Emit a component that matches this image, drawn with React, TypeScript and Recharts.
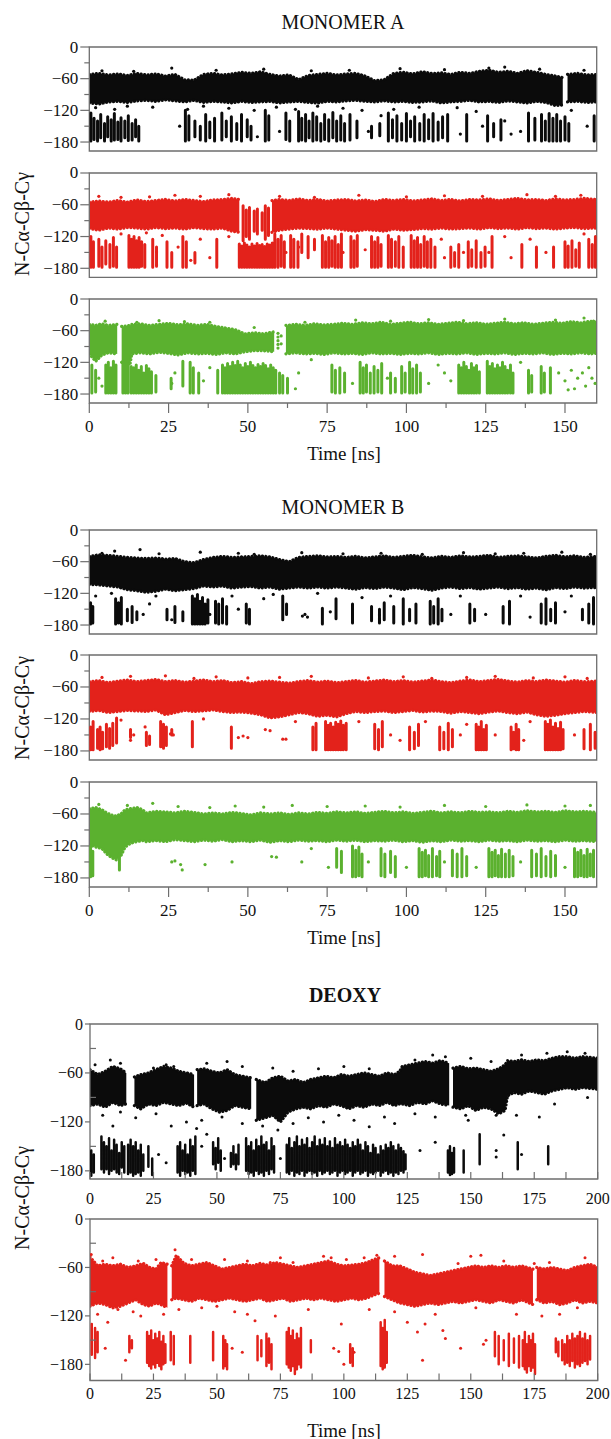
import React from "react";
import { ComposedChart, Area, Line, Scatter, XAxis, YAxis, ReferenceArea } from "recharts";

type Row = [number, number, number];
type Pt = [number, number];

const INK = "#111";
const FRAME = "#6e6e6e";
const SERIF = '"Liberation Serif", "Times New Roman", Times, "DejaVu Serif", serif';
const BLACK = "#0b0b0b";
const RED = "#e3221b";
const GREEN = "#5bb12f";

// tick labels
const angleTicks = [0, -30, -60, -90, -120, -150, -180];
const monoTimeTicks = [0, 12.5, 25, 37.5, 50, 62.5, 75, 87.5, 100, 112.5, 125, 137.5, 150];
const deoxyTimeTicks = [0, 12.5, 25, 37.5, 50, 62.5, 75, 87.5, 100, 112.5, 125, 137.5, 150, 162.5, 175, 187.5, 200];

// ---------- MONOMER A, black ----------  band rows: [t, upper, lower]
const aBlackBand: Row[][] = [
  [[0,-52,-106],[3,-50,-108],[6,-53,-104],[9,-51,-103],[12,-54,-105],[15,-50,-102],[18,-53,-101],[21,-51,-103],[24,-55,-100],[27,-52,-102],[30,-62,-104],[33,-63,-101],[36,-52,-105],[39,-50,-103],[42,-53,-104],[45,-51,-106],[48,-48,-103],[51,-50,-105],[54,-47,-104],[57,-52,-103],[60,-55,-106],[63,-53,-104],[66,-62,-103],[69,-54,-105],[72,-52,-106],[75,-50,-103],[78,-53,-104],[81,-51,-102],[84,-50,-101],[87,-55,-103],[90,-64,-104],[93,-62,-102],[96,-50,-104],[99,-48,-103],[102,-51,-105],[105,-47,-104],[108,-50,-102],[111,-49,-106],[114,-52,-104],[117,-48,-103],[120,-50,-101],[123,-46,-104],[126,-44,-103],[129,-48,-105],[132,-46,-102],[135,-50,-104],[138,-45,-106],[141,-48,-103],[144,-52,-105],[147,-55,-111],[149.3,-58,-110]],
  [[150.8,-52,-104],[154,-50,-103],[157,-53,-105],[160,-52,-104]],
];
const aBlackStripes: Row[] = [
  [0.5,-125,-178],[1.5,-135,-175],[2.6,-140,-178],[3.6,-128,-172],[4.8,-145,-178],[5.8,-132,-170],[6.9,-138,-178],[7.9,-126,-176],[9,-142,-175],[10,-134,-178],[11.2,-140,-172],[12.3,-130,-177],[13.5,-145,-176],[14.6,-138,-170],[15.6,-150,-178],
  [30.3,-120,-178],[31.4,-130,-176],[33.3,-140,-170],[35,-150,-176],[36.7,-128,-178],[38,-142,-172],[39.5,-135,-178],[41.8,-125,-176],[43.2,-140,-170],[44.8,-132,-178],[46.5,-145,-175],[48,-128,-178],[49.8,-138,-170],[51,-150,-176],
  [55.5,-120,-178],[56.6,-130,-176],[62,-125,-175],[63.2,-140,-178],
  [66,-122,-178],[67,-135,-176],[68.2,-128,-178],[69.3,-140,-172],[70.5,-125,-178],[71.7,-132,-176],[73,-145,-178],[74.2,-128,-175],[75.5,-138,-178],[76.8,-124,-172],[78,-140,-178],[79.3,-130,-176],[80.5,-145,-178],
  [82.2,-128,-176],[84.4,-140,-172],[89,-150,-172],[91.6,-145,-168],
  [94.3,-125,-178],[95.6,-138,-172],[97,-130,-178],[98.5,-145,-176],[100,-126,-178],[101.3,-140,-170],[102.6,-132,-178],[104.2,-145,-176],[105.6,-128,-178],[107,-138,-174],[108.4,-126,-178],[110,-142,-176],[111.4,-132,-172],[113,-128,-178],
  [119,-128,-178],[125.6,-130,-178],[127.5,-145,-170],[129.8,-138,-176],[138.5,-125,-178],[140.5,-135,-176],
  [142.6,-128,-178],[143.8,-140,-176],[145,-126,-178],[146.2,-135,-178],[147.4,-128,-178],[148.6,-140,-178],[150,-132,-176],[151.2,-145,-178],[159.2,-130,-178],
];
const aBlackDots: Pt[] = [
  [4,-45],[14,-46],[26,-40],[40,-44],[55,-42],[70,-45],[82,-44],[98,-41],[112,-43],[126,-40],[131,-38],[142,-42],[156,-44],
  [2,-115],[8,-118],[12,-112],[20,-114],[28.5,-150],[31,-118],[36,-112],[44,-116],[52,-120],[53,-170],[59,-114],[60,-160],[65,-118],[72,-112],[80,-116],[86,-120],[88,-160],[92,-130],[96,-118],[104,-114],[116,-115],[117,-165],[122,-122],[124,-150],[131,-140],[133,-165],[136,-160],[152,-120],[157,-150],
];

// ---------- MONOMER A, red ----------
const aRedBand: Row[][] = [
  [[0,-55,-105],[3,-53,-108],[6,-55,-104],[9,-52,-106],[12,-55,-103],[15,-51,-104],[18,-54,-106],[21,-52,-103],[24,-50,-105],[27,-53,-104],[30,-50,-106],[33,-52,-103],[36,-54,-105],[39,-51,-106],[42,-50,-104],[45,-48,-110],[47.3,-50,-112]],
  [[57.6,-52,-112],[60,-50,-108],[63,-52,-106],[66,-49,-104],[69,-52,-105],[72,-50,-106],[75,-53,-104],[78,-51,-106],[81,-50,-108],[84,-53,-110],[87,-51,-107],[90,-54,-108],[93,-50,-110],[96,-52,-106],[99,-50,-108],[102,-53,-107],[105,-51,-105],[108,-49,-106],[111,-52,-104],[114,-50,-106],[117,-53,-105],[120,-50,-104],[123,-51,-106],[126,-49,-103],[129,-52,-105],[132,-50,-104],[135,-48,-106],[138,-51,-103],[141,-50,-105],[144,-52,-104],[147,-49,-106],[150,-51,-104],[153,-50,-103],[156,-48,-105],[160,-50,-104]],
];
const aRedStripes: Row[] = [
  [48.5,-62,-128],[49.5,-70,-120],[50.5,-65,-125],[52,-72,-110],[53,-68,-115],[54.5,-75,-108],[55.5,-62,-125],[56.5,-66,-118],
  [47.3,-134,-178],[48.1,-138,-178],[48.9,-132,-178],[49.7,-136,-178],[50.5,-140,-178],[51.3,-134,-178],[52.1,-138,-178],[52.9,-133,-178],[53.7,-137,-178],[54.5,-135,-178],[55.3,-139,-178],[56.1,-134,-178],[56.9,-136,-178],[57.7,-132,-178],
  [0.5,-120,-178],[1.3,-130,-178],[3,-125,-176],[4,-140,-178],[5.2,-128,-172],[6.5,-135,-178],[7.6,-122,-176],[8.6,-140,-178],[12.5,-118,-178],[13.3,-125,-178],[14.1,-120,-178],[14.9,-128,-178],[15.7,-122,-178],[16.5,-130,-176],[17.5,-135,-178],[20,-125,-178],[21.2,-140,-176],[24.5,-130,-178],[26,-150,-178],[29.5,-120,-178],[30.6,-130,-178],[33.3,-150,-170],[40.2,-125,-178],
  [58.5,-115,-178],[59.5,-125,-178],[60.5,-118,-176],[61.5,-130,-178],[63.5,-118,-178],[64.5,-125,-178],[65.8,-130,-178],[67,-115,-150],[69,-120,-160],[71,-125,-145],[73.5,-118,-178],[74.5,-130,-178],[75.5,-122,-178],[76.5,-128,-176],[77.5,-120,-178],[78.5,-135,-178],
  [79.5,-115,-178],[82.5,-120,-178],[83.5,-128,-178],[84.5,-118,-176],[89,-120,-178],[90,-130,-178],[91,-122,-178],[92,-135,-176],[94.3,-118,-178],[95.3,-125,-178],[96.5,-130,-176],[97.6,-120,-178],[99,-140,-178],[101.5,-118,-178],[102.5,-128,-178],[103.5,-122,-178],[104.5,-135,-178],[105.6,-120,-176],[106.6,-130,-178],[107.7,-125,-178],[109,-140,-178],
  [114,-140,-178],[115.2,-150,-176],[116.5,-135,-178],[119.5,-130,-178],[120.6,-145,-176],[122,-128,-178],[123.5,-150,-178],[124.8,-140,-176],[127,-120,-178],[136.4,-135,-178],[141,-140,-178],[146.4,-140,-178],[150,-130,-178],[151,-138,-178],[152.2,-128,-178],[153.4,-145,-176],[154.5,-132,-178],[157.5,-125,-178],[158.6,-135,-178],[159.6,-120,-178],
];
const aRedDots: Pt[] = [
  [3,-44],[10,-46],[19,-45],[27,-42],[35,-44],[44,-41],[60,-44],[71,-46],[85,-42],[100,-45],[112,-43],[124,-44],[138,-41],[147,-44],[155,-42],
  [10,-115],[18,-113],[23,-118],[28,-140],[32,-165],[35,-125],[38,-160],[44,-120],[62,-150],[66,-140],[80,-150],[87,-145],[111,-125],[112,-160],[118,-150],[126,-150],[131,-120],[133,-160],[139,-125],[144,-150],[156,-115],
];

// ---------- MONOMER A, green ----------
const aGreenBand: Row[][] = [
  [[0,-48,-104],[2,-50,-118],[4,-47,-106],[6,-50,-102],[8.8,-48,-104]],
  [[10.2,-52,-120],[12.8,-50,-125],[13.4,-48,-104],[16,-47,-102],[19,-50,-104],[22,-48,-101],[25,-46,-103],[28,-49,-106],[31,-47,-102],[34,-50,-104],[37,-48,-103],[40,-52,-105],[43,-55,-102],[46,-58,-104],[49,-66,-100],[52,-64,-98],[55,-66,-98],[58.3,-62,-100]],
  [[62,-50,-104],[65,-48,-102],[68,-50,-104],[71,-47,-103],[74,-49,-105],[77,-48,-102],[80,-46,-104],[83,-48,-103],[86,-45,-105],[89,-47,-102],[92,-44,-104],[95,-48,-103],[98,-46,-105],[101,-44,-103],[104,-47,-104],[107,-45,-102],[110,-48,-105],[113,-46,-103],[116,-44,-104],[119,-47,-102],[122,-45,-105],[125,-48,-103],[128,-46,-104],[131,-44,-102],[134,-47,-105],[137,-45,-103],[140,-48,-104],[143,-46,-102],[146,-44,-105],[149,-46,-103],[152,-43,-104],[155,-45,-102],[158,-42,-104],[160,-44,-103]],
];
const aGreenStripes: Row[] = [
  [0.8,-125,-178],[2,-135,-176],[5.2,-125,-178],[6,-120,-178],[6.8,-130,-178],[7.6,-118,-178],[8.4,-125,-178],[10.6,-118,-178],[11.4,-120,-178],[12.2,-122,-178],[13.2,-128,-178],[14,-130,-178],[14.8,-125,-178],[15.6,-135,-178],[16.4,-128,-178],[17.2,-140,-178],[18,-126,-178],[18.8,-132,-178],[19.6,-138,-178],[21,-145,-176],[25.8,-150,-170],[29.5,-118,-165],[31.8,-120,-178],[32.8,-130,-178],[34.5,-140,-178],
  [40.5,-135,-178],[42,-125,-178],[42.8,-130,-178],[43.6,-122,-178],[44.4,-128,-178],[45.2,-120,-178],[46,-126,-178],[46.8,-118,-178],[47.6,-125,-178],[48.4,-130,-178],[49.2,-122,-178],[50,-128,-178],[50.8,-120,-178],[51.6,-126,-178],[52.4,-130,-178],[53.2,-124,-178],[54,-128,-178],[54.8,-122,-178],[55.6,-126,-178],[56.4,-132,-178],[57.2,-125,-178],[58,-130,-178],[58.8,-135,-178],[60,-140,-178],[61,-145,-178],[62.5,-150,-178],
  [76.5,-125,-176],[77.6,-135,-178],[79,-130,-178],[80.5,-140,-176],[85.4,-120,-178],[86.4,-130,-178],[87.4,-125,-176],[88.6,-140,-178],[89.8,-128,-178],[91,-135,-176],[92.2,-122,-178],[95,-140,-178],[96.5,-150,-176],[98.5,-128,-178],[99.6,-140,-176],[101,-120,-178],[102,-132,-178],[103.2,-125,-178],[104.4,-140,-176],
  [116.5,-125,-178],[117.3,-130,-178],[118.1,-120,-178],[118.9,-128,-178],[119.7,-135,-178],[120.5,-122,-178],[121.3,-130,-178],[122.1,-126,-178],[123,-138,-178],[125.5,-118,-178],[126.3,-128,-178],[127.1,-122,-178],[127.9,-132,-178],[128.7,-125,-178],[129.5,-130,-178],[130.3,-120,-178],[131.1,-128,-178],[131.9,-135,-178],[132.8,-125,-178],[133.6,-140,-178],[138.5,-135,-178],[139.5,-145,-176],[142.5,-128,-178],[143.5,-140,-176],[145.4,-130,-178],
];
const aGreenDots: Pt[] = [
  [5,-42],[15,-44],[22,-41],[30,-43],[38,-44],[52,-54],[68,-44],[84,-40],[95,-42],[107,-39],[118,-41],[131,-38],[147,-40],[156,-36],[159,-42],
  [59.5,-65],[59.5,-72],[59.5,-79],[59.5,-86],[59.5,-93],[60.5,-70],[60.5,-85],
  [3,-150],[4,-165],[26,-160],[27,-140],[36,-155],[38,-130],[65,-170],[66,-140],[70,-115],[83,-160],[94,-150],[107,-160],[110,-125],[112,-140],[114,-155],[136,-120],[148,-140],[150,-155],[151,-172],[152,-135],[153,-170],[154,-150],[155.5,-140],[156.5,-165],[157.5,-130],[158.5,-150],[159.5,-160],
];

// ---------- MONOMER B, black ----------
const bBlackBand: Row[][] = [
  [[0,-50,-103],[3,-47,-104],[6,-48,-106],[9,-50,-108],[12,-52,-113],[15,-53,-115],[18,-54,-118],[21,-53,-116],[24,-55,-112],[27,-54,-115],[30,-60,-113],[33,-62,-111],[36,-56,-106],[39,-52,-108],[42,-50,-106],[45,-52,-110],[48,-51,-108],[51,-50,-107],[54,-49,-110],[57,-51,-108],[60,-56,-112],[63,-60,-110],[66,-52,-108],[69,-50,-110],[72,-49,-108],[75,-51,-110],[78,-50,-108],[81,-52,-110],[84,-50,-112],[87,-53,-109],[90,-51,-111],[93,-49,-108],[96,-52,-110],[99,-50,-113],[102,-48,-109],[105,-51,-111],[108,-53,-114],[111,-50,-110],[114,-52,-108],[117,-49,-111],[120,-51,-109],[123,-50,-112],[126,-48,-110],[129,-52,-108],[132,-50,-111],[135,-49,-109],[138,-51,-112],[141,-53,-110],[144,-50,-113],[147,-48,-109],[150,-51,-111],[153,-49,-108],[156,-52,-110],[160,-50,-109]],
];
const bBlackStripes: Row[] = [
  [0.4,-138,-178],[1.1,-145,-176],[8.3,-130,-178],[9.2,-138,-176],[10.1,-128,-178],[12,-150,-172],[13.5,-145,-175],[15,-155,-170],[24.5,-150,-170],[27,-145,-175],[29.5,-155,-172],
  [32.5,-125,-178],[33.3,-130,-178],[34.1,-122,-178],[34.9,-135,-178],[35.7,-128,-178],[36.5,-140,-178],[37.4,-132,-176],[39.8,-135,-176],[40.8,-140,-178],[42,-130,-176],[43.3,-145,-178],[49.5,-140,-176],[50.5,-150,-178],[61,-125,-170],[62.2,-140,-160],[73.5,-148,-178],[77.8,-130,-168],
  [83,-140,-176],[89,-145,-172],[91.5,-150,-176],[93,-138,-170],[96,-145,-176],[99,-130,-178],[101,-150,-172],[103,-140,-176],[107.5,-135,-178],[108.6,-145,-176],[110,-130,-178],[111.2,-150,-172],[120,-140,-176],[121.5,-150,-172],[130.5,-145,-176],[132.5,-135,-178],[142.5,-140,-176],[144,-130,-178],[145.5,-150,-172],[147,-138,-176],[155.5,-150,-170],[157.5,-140,-176],[159,-128,-178],
];
const bBlackDots: Pt[] = [
  [4,-44],[8,-40],[16,-37],[22,-45],[35,-42],[47,-44],[52,-46],[67,-43],[80,-45],[92,-44],[105,-46],[118,-43],[128,-45],[137,-44],[149,-42],[158,-46],
  [2,-125],[7,-120],[17,-160],[19,-140],[21,-125],[26,-170],[38,-160],[45,-125],[47,-150],[55,-130],[58,-122],[67.2,-163],[68,-160],[68.8,-165],[72,-120],[76,-155],[86,-128],[95,-125],[114,-160],[117,-125],[125,-160],[136,-125],[139,-165],[150,-155],[152,-125],
];

// ---------- MONOMER B, red ----------
const bRedBand: Row[][] = [
  [[0,-50,-106],[3,-48,-104],[6,-52,-108],[9,-49,-106],[12,-47,-104],[15,-50,-105],[18,-48,-106],[21,-46,-103],[24,-50,-112],[27,-48,-108],[30,-51,-104],[33,-49,-106],[36,-47,-105],[39,-50,-103],[42,-48,-106],[45,-52,-108],[48,-50,-107],[51,-54,-109],[54,-50,-112],[57,-49,-118],[60,-51,-116],[63,-53,-112],[66,-50,-108],[69,-48,-110],[72,-51,-115],[75,-49,-113],[78,-52,-116],[81,-50,-110],[84,-48,-106],[87,-51,-108],[90,-49,-106],[93,-47,-105],[96,-50,-108],[99,-48,-106],[102,-51,-104],[105,-49,-107],[108,-47,-105],[111,-50,-106],[114,-52,-109],[117,-49,-106],[120,-47,-108],[123,-50,-110],[126,-48,-107],[129,-46,-105],[132,-49,-108],[135,-51,-110],[138,-48,-107],[141,-50,-112],[144,-47,-115],[147,-49,-113],[150,-51,-110],[153,-48,-108],[156,-50,-106],[160,-49,-108]],
];
const bRedStripes: Row[] = [
  [0.4,-135,-178],[1.2,-125,-178],[2.6,-140,-175],[3.4,-135,-178],[4.2,-145,-176],[5.4,-130,-172],[6.4,-138,-175],[7.4,-128,-170],[8.6,-118,-165],[13,-140,-155],[18,-145,-170],[19,-152,-168],[22.5,-125,-172],[23.4,-130,-175],[24.3,-135,-170],[26,-140,-150],[32.5,-125,-172],[44.8,-135,-175],
  [70.5,-135,-178],[71.5,-128,-178],[74.5,-125,-178],[75.3,-132,-178],[76.1,-128,-178],[76.9,-135,-178],[77.7,-126,-178],[78.5,-130,-178],[79.3,-124,-178],[80.1,-132,-178],[81,-128,-178],
  [90,-130,-176],[91.2,-140,-178],[92.4,-125,-172],[101,-135,-178],[102.5,-145,-176],[103.8,-130,-170],[110.5,-135,-178],[111.8,-145,-176],[113.2,-128,-178],[114.5,-140,-172],[122,-130,-178],[122.8,-135,-178],[123.6,-125,-178],[124.4,-140,-178],[125.2,-132,-178],[133,-135,-178],[133.8,-145,-176],[134.6,-130,-178],[135.4,-140,-178],
  [143.8,-125,-178],[144.6,-130,-178],[145.4,-122,-178],[146.2,-135,-178],[147,-128,-178],[147.8,-138,-178],[148.6,-126,-178],[149.4,-140,-176],[156,-140,-176],[158,-130,-178],[159.5,-145,-175],
];
const bRedDots: Pt[] = [
  [4,-42],[13,-40],[24,-39],[33,-44],[40,-41],[50,-43],[60,-42],[70,-40],[88,-43],[99,-41],[108,-44],[119,-42],[128,-40],[140,-43],[150,-41],[157,-44],
  [10,-122],[13,-160],[14,-150],[17.6,-135],[25.6,-148],[26.5,-150],[36,-120],[47,-155],[48.5,-152],[50,-155],[55.5,-140],[57,-142],[61,-158],[62,-158],[65,-125],[85,-125],[95,-150],[98,-160],[106,-125],[117,-150],[119,-130],[128,-150],[137,-160],[139,-125],[153,-150],
];

// ---------- MONOMER B, green ----------
const bGreenBand: Row[][] = [
  [[0,-50,-118],[2,-48,-122],[4,-52,-125],[5.5,-58,-135],[7,-62,-142],[8.5,-64,-146],[10,-60,-138],[11.3,-52,-122],[13,-50,-115],[15,-48,-112],[16.8,-52,-110],[18,-58,-112],[21,-55,-110],[24,-56,-112],[27,-58,-108],[30,-55,-110],[33,-57,-112],[36,-60,-109],[39,-58,-111],[42,-60,-108],[45,-57,-112],[48,-59,-110],[51,-62,-112],[54,-58,-109],[57,-60,-113],[60,-58,-110],[63,-61,-112],[66,-58,-109],[69,-60,-111],[72,-57,-110],[75,-59,-112],[78,-56,-109],[81,-58,-111],[84,-56,-109],[87,-59,-112],[90,-57,-110],[93,-55,-111],[96,-58,-109],[99,-56,-112],[102,-59,-110],[105,-57,-113],[108,-55,-110],[111,-58,-112],[114,-56,-109],[117,-58,-111],[120,-55,-110],[123,-57,-112],[126,-56,-109],[129,-58,-111],[132,-55,-110],[135,-57,-112],[138,-54,-109],[141,-56,-111],[144,-55,-110],[147,-57,-112],[150,-54,-109],[153,-56,-111],[156,-55,-110],[160,-57,-112]],
];
const bGreenStripes: Row[] = [
  [0.4,-120,-178],[1.1,-130,-176],[9.5,-135,-165],[78,-125,-160],[79.5,-130,-170],[83,-120,-178],[84,-128,-178],[85,-122,-176],[86,-135,-178],[92,-125,-176],[93.2,-135,-178],[95,-130,-170],[96.5,-140,-178],
  [104,-125,-178],[105,-132,-178],[106,-128,-176],[107,-138,-178],[108.2,-125,-178],[109.5,-140,-176],[110.5,-130,-178],[114.5,-128,-176],[116,-135,-178],[117.5,-125,-178],[119,-140,-176],
  [126,-125,-178],[127,-132,-178],[128,-128,-176],[129,-138,-178],[130,-126,-178],[131.2,-135,-178],[132.4,-128,-178],[133.6,-140,-176],[139.5,-128,-178],[141,-135,-176],[142.5,-125,-178],[144,-140,-176],[145.5,-130,-178],[147,-138,-176],
  [153,-125,-178],[154,-132,-178],[155,-128,-176],[156,-138,-178],[157,-126,-178],[158,-135,-176],[159,-128,-178],
];
const bGreenDots: Pt[] = [
  [3,-42],[12,-44],[20,-40],[28,-46],[38,-48],[46,-45],[55,-47],[64,-44],[75,-46],[87,-45],[98,-47],[112,-44],[125,-46],[138,-43],[150,-45],[158,-44],
  [26,-150],[27,-148],[28.8,-155],[29.3,-165],[36.5,-155],[45,-150],[57.5,-140],[59,-141],[67,-150],[70,-125],[75.4,-160],[88,-150],[100,-160],[112,-150],[122,-160],[136,-150],[150,-160],
];

// ---------- DEOXY, black ----------
const dBlackBand: Row[][] = [
  [[0,-56,-100],[3,-62,-98],[6,-58,-102],[9,-52,-96],[12,-55,-100],[14.3,-60,-98]],
  [[17.5,-65,-100],[20,-62,-104],[23,-60,-98],[26,-56,-100],[29,-52,-96],[32,-54,-98],[35,-58,-100],[38,-60,-97],[41,-62,-102]],
  [[42.2,-56,-100],[45,-55,-98],[48,-58,-104],[51,-60,-108],[54,-56,-106],[57,-62,-100],[60,-64,-102],[63.5,-66,-104]],
  [[65.5,-68,-118],[69,-72,-115],[72,-66,-112],[75,-64,-120],[78,-70,-108],[81,-68,-104],[84,-72,-102],[87,-68,-104],[90,-66,-100],[93,-64,-102],[96,-66,-98],[99,-62,-100],[102,-64,-104],[105,-62,-100],[108,-60,-102],[111,-62,-98],[114,-64,-100],[117,-60,-96],[120,-62,-100],[122,-58,-98],[123,-52,-98],[126,-50,-100],[129,-48,-96],[132,-46,-98],[135,-48,-94],[138,-45,-98],[141.5,-48,-100]],
  [[143,-54,-102],[146,-52,-104],[149,-55,-100],[152,-54,-106],[155,-56,-102],[158,-58,-104],[161,-55,-110],[163.5,-50,-106],[164.5,-45,-88],[167,-46,-84],[170,-44,-86],[173,-46,-82],[176,-44,-84],[179,-45,-86],[182,-42,-82],[185,-40,-80],[188,-40,-78],[191,-42,-80],[194,-40,-78],[197,-41,-79],[200,-42,-80]],
];
const dBlackStripes: Row[] = [
  [0.5,-155,-186],[1.5,-160,-182],[4.5,-138,-178],[5.5,-145,-182],[6.5,-150,-178],[7.5,-140,-184],[8.5,-155,-180],[9.5,-142,-178],[10.5,-148,-182],[11.5,-158,-184],[12.5,-145,-176],[13.5,-150,-182],[15,-148,-184],[16,-142,-182],[17,-150,-186],[18,-145,-184],[19,-155,-182],[20,-148,-186],[21,-160,-180],[23,-150,-175],[24.5,-165,-185],
  [34.5,-150,-182],[35.5,-145,-186],[36.5,-155,-180],[37.5,-148,-184],[38.5,-160,-182],[39.5,-142,-186],[40.5,-150,-180],[41.5,-138,-184],
  [48.5,-145,-172],[49.5,-152,-178],[50.5,-140,-170],[51.5,-155,-180],[55.5,-158,-175],[56.5,-150,-172],[57.5,-160,-178],[58.5,-148,-172],
  [61.5,-140,-180],[62.5,-150,-184],[63.5,-145,-182],[64.5,-155,-186],[65.5,-142,-180],[66.5,-150,-184],[67.5,-138,-182],[68.5,-148,-186],[69.5,-145,-180],[70.5,-155,-184],[71.5,-140,-178],[72.5,-150,-182],
  [77.5,-148,-182],[78.5,-140,-184],[79.5,-152,-180],[80.5,-145,-186],[81.5,-138,-182],[82.5,-150,-184],[83.5,-142,-180],[84.5,-148,-186],[85.5,-140,-182],[86.5,-152,-180],[87.5,-145,-184],[88.5,-138,-182],[89.5,-150,-186],[90.5,-142,-180],[91.5,-148,-184],[92.5,-140,-182],[93.5,-150,-180],[94.5,-144,-184],[95.5,-152,-182],[96.5,-140,-180],[97.5,-148,-186],[98.5,-145,-182],[99.5,-150,-180],[100.5,-142,-184],[101.5,-148,-182],[102.5,-152,-180],[103.5,-145,-186],[104.5,-150,-182],[105.5,-142,-180],[106.5,-148,-184],[107.5,-155,-182],[108.5,-145,-180],[109.5,-150,-186],[110.5,-158,-182],[111.5,-148,-184],[112.5,-152,-182],[113.5,-160,-180],[114.5,-150,-186],[115.5,-155,-182],[116.5,-148,-180],[117.5,-152,-184],[118.5,-145,-182],[119.5,-150,-186],[120.5,-155,-182],[121.5,-148,-184],[122.5,-152,-180],[123.5,-156,-182],[124.3,-160,-178],
  [141,-155,-182],[141.8,-150,-185],[142.6,-158,-184],[143.4,-152,-182],[147.2,-155,-182],[153.5,-135,-172],[168.5,-145,-178],[180.5,-150,-172],
];
const dBlackDots: Pt[] = [
  [2,-50],[8,-44],[12,-48],[25,-54],[30,-50],[33,-52],[46,-48],[54,-46],[60,-52],[72,-54],[80,-58],[90,-55],[100,-52],[110,-55],[128,-44],[135,-38],[140,-40],[150,-42],[158,-46],[170,-38],[180,-36],[188,-34],[195,-36],
  [5,-112],[12,-108],[18,-115],[26,-110],[32,-125],[38,-120],[42,-128],[44,-118],[52,-114],[60,-122],[68,-125],[74,-130],[80,-122],[86,-115],[92,-120],[98,-112],[104,-118],[110,-126],[116,-114],[120,-122],[128,-110],[136,-114],[148,-112],[160,-112],[168,-112],[177,-114],[183,-98],[196,-90],
  [130,-155],[136,-145],[149,-118],[160,-163],[163,-136],[9,-125],[44,-150],[27,-160],[30,-170],[46,-135],[53,-165],[75,-165],[160,-155],[170,-160],
];

// ---------- DEOXY, red ----------
const dRedBand: Row[][] = [
  [[0,-47,-108],[3,-58,-104],[6,-56,-106],[9,-58,-110],[12,-56,-108],[15,-60,-104],[18,-58,-100],[21,-55,-106],[23.5,-60,-108],[26,-62,-104],[28,-54,-106],[30.5,-56,-110]],
  [[32.2,-58,-100],[34,-45,-98],[37,-55,-100],[40,-58,-102],[43,-56,-98],[46,-54,-100],[49,-58,-102],[52,-62,-100],[55,-60,-98],[58,-58,-100],[61,-56,-102],[64,-58,-100],[67,-55,-98],[70,-57,-102],[73,-54,-100],[76,-56,-98],[79,-58,-102],[82,-60,-100],[85,-58,-98],[88,-56,-100],[91,-54,-98],[94,-52,-100],[97,-56,-102],[100,-58,-100],[103,-57,-98],[106,-56,-100],[109,-54,-98],[112,-50,-94],[114,-48,-92]],
  [[116,-52,-96],[119,-58,-100],[122,-58,-104],[125,-62,-106],[128,-66,-108],[131,-68,-106],[134,-70,-104],[137,-68,-106],[140,-66,-104],[143,-64,-102],[146,-62,-104],[149,-60,-102],[152,-58,-100],[155,-60,-102],[158,-58,-104],[161,-60,-100],[164,-58,-102],[167,-60,-104],[170,-58,-100],[174.5,-62,-106]],
  [[176,-60,-100],[179,-62,-104],[182,-60,-102],[185,-62,-106],[188,-64,-104],[191,-60,-100],[194,-58,-104],[197,-56,-102],[200,-60,-104]],
];
const dRedStripes: Row[] = [
  [0.7,-130,-168],[2,-135,-172],[3,-140,-165],[15.5,-145,-165],[16.5,-150,-160],
  [22.5,-140,-178],[23.3,-145,-182],[24.1,-138,-185],[24.9,-150,-180],[25.7,-142,-184],[26.5,-148,-178],[27.3,-140,-182],[28.1,-152,-186],[28.9,-145,-180],[29.7,-155,-178],[31.8,-140,-175],[33,-145,-180],[39.5,-145,-178],[48.5,-140,-175],[52.5,-145,-185],[53.3,-150,-182],[54,-155,-186],
  [66,-145,-175],[67.5,-150,-170],[69.5,-142,-182],[70.5,-148,-178],[71.5,-155,-186],[77.5,-140,-180],[78.3,-135,-184],[79.1,-145,-188],[79.9,-138,-182],[80.7,-150,-192],[81.5,-142,-186],[82.3,-148,-180],[83.1,-135,-184],[87,-150,-165],
  [102.5,-155,-178],[103.5,-160,-182],[114.5,-128,-182],[115.3,-135,-186],[116.1,-125,-184],[116.9,-140,-178],
  [159.5,-140,-170],[161,-145,-180],[163,-150,-175],[165,-142,-182],[167,-148,-178],[169,-145,-184],[170.5,-150,-182],[171.3,-140,-186],[172.1,-155,-190],[172.9,-145,-182],[173.7,-150,-188],[174.5,-142,-184],[175.3,-155,-192],
  [183.5,-148,-165],[184.5,-152,-170],[186,-150,-175],[187,-155,-180],[188,-145,-178],[189,-150,-182],[190,-142,-176],[191,-148,-184],[192,-145,-180],[193,-140,-182],[194,-148,-178],[195,-142,-176],[196,-150,-180],[197,-145,-174],
];
const dRedDots: Pt[] = [
  [0.5,-44],[5,-52],[9,-48],[19,-52],[26,-50],[33.5,-38],[40,-50],[53,-50],[62,-52],[71,-54],[75,-48],[80,-54],[92,-46],[95,-48],[101,-50],[108,-48],[113,-45],[120,-46],[131,-44],[145,-55],[150,-46],[154,-45],[163,-52],[175,-55],[181,-54],[195,-48],
  [3,-118],[7,-128],[11,-112],[17,-115],[20,-120],[29,-118],[35,-112],[44,-110],[50,-108],[57,-115],[62,-118],[65,-126],[73,-120],[86,-112],[96,-160],[98,-164],[99,-130],[104,-165],[110,-112],[120,-115],[125,-128],[129,-140],[131,-175],[132,-130],[136,-118],[139,-138],[140,-148],[146,-160],[152,-110],[155,-155],[156,-150],[168,-118],[178,-120],[185,-118],[192,-110],[14,-175],[6,-160],[56,-160],[60,-165],[100,-180],
];

const bandRows = (segs: Row[][]) =>
  segs.flatMap((seg) => [
    ...seg.map(([t, hi, lo]) => ({ t, r: [lo, hi] })),
    { t: seg[seg.length - 1][0], r: null },
  ]);
const stripeRows = (rows: Row[]) =>
  rows.flatMap(([t, a, b]) => [{ t, y: a }, { t, y: b }, { t, y: null }]);
const dotRows = (pts: Pt[]) => pts.map(([t, y]) => ({ t, y }));

const fmt = (v: number) => (v === 0 ? "0" : "\u2212" + Math.abs(v));

type PanelCfg = {
  top: number;
  h: number;
  left: number;
  right: number;
  xMax: number;
  yMin: number;
  band: Row[][];
  stripes: Row[];
  dots: Pt[];
  color: string;
  kind: "mono" | "deoxy";
  xLabels: boolean;
  labelGap?: number;
};

function Panel(c: PanelCfg) {
  const W = 611;
  const mt = 12;
  const xh = 44;
  const mono = c.kind === "mono";
  const fs = mono ? 17 : 16;
  const timeTicks = mono ? monoTimeTicks : deoxyTimeTicks;
  const txt = { fontSize: fs, fontFamily: SERIF, fill: INK };

  const leftTick = (p: any) => {
    const v = p.payload.value;
    const major = v % 60 === 0;
    const x2 = mono ? p.x - (major ? 9 : 5) : major ? p.x - 5 : p.x + 6;
    return (
      <g>
        <line x1={p.x} x2={x2} y1={p.y} y2={p.y} stroke={FRAME} strokeWidth={1.2} />
        {major && (
          <text x={p.x - (mono ? 11 : 7)} y={p.y} textAnchor="end" dominantBaseline="central" style={txt}>
            {fmt(v)}
          </text>
        )}
      </g>
    );
  };
  const rightTick = (p: any) => (
    <line x1={p.x} x2={p.x - 7} y1={p.y} y2={p.y} stroke={FRAME} strokeWidth={1.2} />
  );
  const topTick = (p: any) => (
    <line x1={p.x} x2={p.x} y1={p.y} y2={p.y + 7} stroke={FRAME} strokeWidth={1.2} />
  );
  const bottomTick = (p: any) => {
    const v = p.payload.value;
    const major = v % 25 === 0;
    const y2 = mono ? p.y + (major ? 10 : 5) : p.y - 7;
    return (
      <g>
        <line x1={p.x} x2={p.x} y1={p.y} y2={y2} stroke={FRAME} strokeWidth={1.2} />
        {major && (
          <text x={p.x} y={p.y + (c.labelGap ?? 23)} textAnchor="middle" dominantBaseline="central" style={txt}>
            {v}
          </text>
        )}
      </g>
    );
  };
  const showBottom = c.xLabels || !mono;

  return (
    <div style={{ position: "absolute", left: 0, top: c.top - mt }}>
      <ComposedChart
        width={W}
        height={mt + c.h + xh}
        data={bandRows(c.band)}
        margin={{ top: mt, right: W - c.right, bottom: 0, left: 0 }}
      >
        <XAxis
          dataKey="t"
          type="number"
          domain={[0, c.xMax]}
          allowDataOverflow
          ticks={timeTicks}
          interval={0}
          height={xh}
          axisLine={false}
          tickLine={false}
          tickSize={0}
          tickMargin={0}
          tick={showBottom ? bottomTick : false}
        />
        <YAxis
          type="number"
          domain={[c.yMin, 0]}
          allowDataOverflow
          ticks={angleTicks}
          interval={0}
          width={c.left}
          axisLine={false}
          tickLine={false}
          tickSize={0}
          tickMargin={0}
          tick={leftTick}
        />
        {!mono && (
          <XAxis
            xAxisId="top"
            orientation="top"
            type="number"
            domain={[0, c.xMax]}
            allowDataOverflow
            ticks={deoxyTimeTicks}
            interval={0}
            height={0}
            axisLine={false}
            tickLine={false}
            tickSize={0}
            tickMargin={0}
            tick={topTick}
          />
        )}
        {!mono && (
          <YAxis
            yAxisId="right"
            orientation="right"
            type="number"
            domain={[c.yMin, 0]}
            allowDataOverflow
            ticks={angleTicks}
            interval={0}
            width={0}
            axisLine={false}
            tickLine={false}
            tickSize={0}
            tickMargin={0}
            tick={rightTick}
          />
        )}
        <Area
          type="linear"
          dataKey="r"
          stroke={c.color}
          strokeWidth={3.2}
          strokeDasharray="0.1 3.4"
          strokeLinecap="round"
          fill={c.color}
          fillOpacity={1}
          connectNulls={false}
          dot={false}
          activeDot={false}
          isAnimationActive={false}
        />
        <Line
          data={stripeRows(c.stripes)}
          type="linear"
          dataKey="y"
          stroke={c.color}
          strokeWidth={mono ? 3 : 2.5}
          strokeLinecap="round"
          connectNulls={false}
          dot={false}
          activeDot={false}
          isAnimationActive={false}
        />
        <Scatter
          data={dotRows(c.dots)}
          dataKey="y"
          fill={c.color}
          isAnimationActive={false}
          shape={(p: any) => <circle cx={p.cx} cy={p.cy} r={mono ? 1.6 : 1.5} fill={c.color} />}
        />
        <ReferenceArea
          x1={0}
          x2={c.xMax}
          y1={c.yMin}
          y2={0}
          ifOverflow="visible"
          fill="none"
          fillOpacity={0}
          stroke={FRAME}
          strokeWidth={1.3}
        />
      </ComposedChart>
    </div>
  );
}

const monoBox = { left: 89.3, right: 596.7, xMax: 160, yMin: -197, kind: "mono" as const };
const deoxyBox = { left: 90, right: 597.7, xMax: 200, kind: "deoxy" as const };

function Label({ x, y, text, size, bold, rotate }: { x: number; y: number; text: string; size: number; bold?: boolean; rotate?: boolean }) {
  return (
    <text
      x={x}
      y={y}
      textAnchor="middle"
      dominantBaseline="central"
      style={{ fontSize: size, fontFamily: SERIF, fontWeight: bold ? 700 : 400, fill: INK }}
      transform={rotate ? `rotate(-90 ${x} ${y})` : undefined}
    >
      {text}
    </text>
  );
}

export default function App() {
  return (
    <div style={{ position: "absolute", left: 0, top: 0, width: 611, height: 1439, background: "#fff", overflow: "hidden" }}>
      <Panel {...monoBox} top={47} h={104} band={aBlackBand} stripes={aBlackStripes} dots={aBlackDots} color={BLACK} xLabels={false} />
      <Panel {...monoBox} top={172.7} h={104.3} band={aRedBand} stripes={aRedStripes} dots={aRedDots} color={RED} xLabels={false} />
      <Panel {...monoBox} top={298.7} h={104} band={aGreenBand} stripes={aGreenStripes} dots={aGreenDots} color={GREEN} xLabels labelGap={23} />

      <Panel {...monoBox} top={530} h={104} band={bBlackBand} stripes={bBlackStripes} dots={bBlackDots} color={BLACK} xLabels={false} />
      <Panel {...monoBox} top={655} h={105} band={bRedBand} stripes={bRedStripes} dots={bRedDots} color={RED} xLabels={false} />
      <Panel {...monoBox} top={781.7} h={105} band={bGreenBand} stripes={bGreenStripes} dots={bGreenDots} color={GREEN} xLabels labelGap={23} />

      <Panel {...deoxyBox} top={1023.5} h={155} yMin={-190} band={dBlackBand} stripes={dBlackStripes} dots={dBlackDots} color={BLACK} xLabels labelGap={19} />
      <Panel {...deoxyBox} top={1218.5} h={161.5} yMin={-200} band={dRedBand} stripes={dRedStripes} dots={dRedDots} color={RED} xLabels labelGap={13} />

      <svg width={611} height={1439} style={{ position: "absolute", left: 0, top: 0, pointerEvents: "none" }}>
        <Label x={343} y={22} text="MONOMER A" size={20} />
        <Label x={22} y={224} text="N-Cα-Cβ-Cγ" size={20} rotate />
        <Label x={344} y={453} text="Time [ns]" size={19} />
        <Label x={343} y={507} text="MONOMER B" size={20} />
        <Label x={22} y={708} text="N-Cα-Cβ-Cγ" size={20} rotate />
        <Label x={344} y={937} text="Time [ns]" size={19} />
        <Label x={345} y={995} text="DEOXY" size={20} bold />
        <Label x={22} y={1198} text="N-Cα-Cβ-Cγ" size={20} rotate />
        <Label x={344} y={1430} text="Time [ns]" size={19} />
      </svg>
    </div>
  );
}
